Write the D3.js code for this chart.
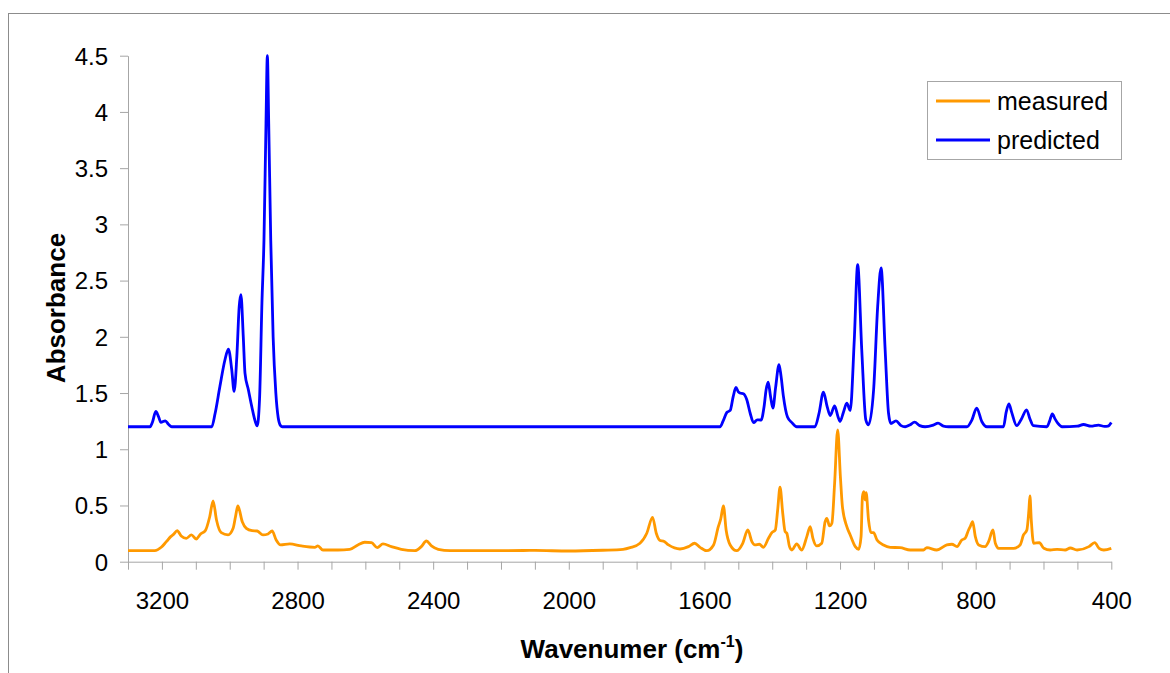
<!DOCTYPE html>
<html>
<head>
<meta charset="utf-8">
<script src="https://cdn.jsdelivr.net/npm/d3@7"></script>
<style>
  html, body { margin: 0; padding: 0; background: #fff; }
  svg { display: block; font-family: "Liberation Sans", Arial, sans-serif; }
</style>
</head>
<body>
<svg id="chart" width="1170" height="673"></svg>
<script>
// IR spectrum: measured vs. predicted absorbance
const seriesNames = ["measured", "predicted"];

const measuredWavenumber = [
  3300, 3221, 3202, 3187, 3174, 3165, 3155, 3143, 3128, 3113, 3099, 3086, 3072, 3059, 3049, 3039,
  3025, 3005, 2990, 2983, 2976, 2963, 2951, 2934, 2919, 2902, 2887, 2875, 2863, 2850, 2823, 2789,
  2749, 2740, 2725, 2681, 2646, 2622, 2602, 2582, 2565, 2548, 2523, 2494, 2454, 2435, 2420, 2405,
  2385, 2350, 2200, 2100, 2000, 1900, 1840, 1819, 1790, 1770, 1753, 1742, 1730, 1721, 1706, 1672,
  1647, 1629, 1613, 1593, 1573, 1559, 1552, 1544, 1536, 1524, 1505, 1487, 1472, 1460, 1451, 1438,
  1426, 1411, 1401, 1391, 1384, 1377, 1369, 1362, 1357, 1349, 1342, 1328, 1313, 1298, 1288, 1280,
  1269, 1254, 1244, 1239, 1231, 1224, 1216, 1207, 1199, 1193, 1180, 1170, 1155, 1145, 1138, 1134,
  1130, 1126, 1123, 1116, 1109, 1101, 1091, 1072, 1052, 1023, 993, 954, 944, 915, 885, 870,
  855, 841, 831, 821, 816, 809, 801, 791, 772, 762, 749, 742, 732, 688, 669, 659,
  649, 643, 640, 636, 629, 612, 599, 580, 560, 536, 521, 501, 466, 449, 436, 422, 400
];
const measuredAbsorbance = [
  0.098, 0.098, 0.128, 0.178, 0.223, 0.245, 0.276, 0.229, 0.208, 0.238, 0.202, 0.247, 0.276, 0.400, 0.541, 0.371,
  0.258, 0.238, 0.297, 0.400, 0.496, 0.356, 0.297, 0.276, 0.273, 0.238, 0.247, 0.273, 0.193, 0.149, 0.158, 0.140,
  0.128, 0.140, 0.104, 0.104, 0.110, 0.149, 0.173, 0.169, 0.125, 0.158, 0.134, 0.110, 0.098, 0.134, 0.184, 0.140,
  0.110, 0.098, 0.098, 0.100, 0.095, 0.102, 0.110, 0.125, 0.164, 0.253, 0.395, 0.253, 0.187, 0.184, 0.149, 0.113,
  0.134, 0.164, 0.128, 0.098, 0.149, 0.312, 0.378, 0.496, 0.282, 0.149, 0.098, 0.164, 0.282, 0.178, 0.149, 0.155,
  0.128, 0.208, 0.258, 0.282, 0.460, 0.662, 0.431, 0.267, 0.253, 0.134, 0.104, 0.158, 0.104, 0.223, 0.312, 0.208,
  0.140, 0.164, 0.356, 0.386, 0.318, 0.342, 0.698, 1.173, 0.757, 0.490, 0.312, 0.238, 0.134, 0.110, 0.223, 0.579,
  0.623, 0.550, 0.614, 0.371, 0.258, 0.258, 0.193, 0.149, 0.128, 0.125, 0.104, 0.104, 0.125, 0.104, 0.149, 0.155,
  0.134, 0.193, 0.208, 0.282, 0.312, 0.356, 0.223, 0.149, 0.134, 0.178, 0.282, 0.164, 0.119, 0.119, 0.149, 0.238,
  0.282, 0.460, 0.585, 0.371, 0.164, 0.169, 0.119, 0.104, 0.110, 0.104, 0.122, 0.104, 0.134, 0.169, 0.119, 0.104, 0.119
];

const predictedWavenumber = [
  3300, 3235, 3228, 3218, 3210, 3203, 3190, 3180, 3171, 3053, 3043, 3029, 3014, 3004, 2994, 2987,
  2979, 2972, 2967, 2960, 2955, 2945, 2935, 2925, 2919, 2912, 2905, 2899, 2893, 2889, 2885, 2879,
  2872, 2864, 2857, 2850, 2845, 1554, 1545, 1534, 1524, 1515, 1507, 1500, 1495, 1485, 1475, 1465,
  1455, 1444, 1433, 1424, 1418, 1412, 1405, 1398, 1390, 1380, 1374, 1367, 1355, 1342, 1328, 1274,
  1262, 1249, 1238, 1229, 1216, 1206, 1200, 1190, 1180, 1170, 1158, 1148, 1136, 1124, 1116, 1101,
  1089, 1079, 1067, 1057, 1050, 1035, 1020, 1008, 995, 980, 965, 949, 925, 911, 895, 880,
  826, 811, 797, 782, 767, 718, 710, 702, 694, 679, 665, 650, 640, 630, 590, 582,
  574, 566, 558, 545, 500, 482, 460, 438, 420, 410, 400
];
const predictedAbsorbance = [
  1.200, 1.200, 1.240, 1.336, 1.290, 1.240, 1.253, 1.220, 1.200, 1.200, 1.320, 1.558, 1.796, 1.891, 1.707, 1.514,
  1.826, 2.270, 2.375, 2.000, 1.678, 1.529, 1.380, 1.250, 1.208, 1.450, 2.300, 2.860, 3.900, 4.500, 3.900, 2.860,
  2.000, 1.500, 1.280, 1.210, 1.200, 1.200, 1.250, 1.327, 1.345, 1.470, 1.549, 1.510, 1.500, 1.493, 1.440, 1.320,
  1.237, 1.262, 1.259, 1.380, 1.530, 1.597, 1.470, 1.366, 1.550, 1.752, 1.650, 1.470, 1.286, 1.237, 1.200, 1.200,
  1.320, 1.508, 1.380, 1.300, 1.386, 1.290, 1.247, 1.330, 1.410, 1.345, 1.974, 2.642, 1.885, 1.262, 1.217, 1.529,
  2.270, 2.612, 1.885, 1.320, 1.229, 1.253, 1.210, 1.200, 1.215, 1.241, 1.210, 1.200, 1.215, 1.232, 1.205, 1.200,
  1.200, 1.262, 1.366, 1.247, 1.200, 1.200, 1.330, 1.404, 1.330, 1.210, 1.270, 1.351, 1.270, 1.210, 1.200, 1.250,
  1.315, 1.270, 1.232, 1.200, 1.205, 1.220, 1.205, 1.215, 1.203, 1.205, 1.238
];

const xTickLabels = [3200, 2800, 2400, 2000, 1600, 1200, 800, 400];
const yTickLabels = ["0", "0.5", "1", "1.5", "2", "2.5", "3", "3.5", "4", "4.5"];

const colors = { measured: "#FF9900", predicted: "#0000FF" };

const svg = d3.select("#chart");

// outer frame
svg.append("rect")
  .attr("x", 8.5).attr("y", 13.5)
  .attr("width", 1180).attr("height", 700)
  .attr("fill", "none").attr("stroke", "#8c8c8c").attr("stroke-width", 1);

const plot = { left: 128, right: 1111.3, top: 55.7, bottom: 561.7 };

const x = d3.scaleLinear().domain([3300, 400]).range([plot.left, plot.right]);
const y = d3.scaleLinear().domain([0, 4.5]).range([plot.bottom, plot.top]);

const axisColor = "#a6a6a6";
const tickFont = 24;

// x axis with a tick every 100 cm-1, labels every 400
const xTicks = d3.range(3300, 399, -100);
const xAxis = svg.append("g")
  .attr("transform", `translate(0,${plot.bottom})`)
  .call(d3.axisBottom(x).tickValues(xTicks).tickSize(8).tickSizeOuter(0)
    .tickFormat(d => xTickLabels.includes(d) ? String(d) : ""));
xAxis.select(".domain").attr("stroke", axisColor);
xAxis.selectAll(".tick line").attr("stroke", axisColor);
xAxis.selectAll(".tick text")
  .attr("y", 47).attr("dy", 0)
  .attr("font-size", tickFont).attr("fill", "#000")
  .attr("font-family", "Liberation Sans, Arial, sans-serif");

// y axis
const yTicks = yTickLabels.map(Number);
const yAxis = svg.append("g")
  .attr("transform", `translate(${plot.left},0)`)
  .call(d3.axisLeft(y).tickValues(yTicks).tickSize(8).tickSizeOuter(0)
    .tickFormat((d, i) => yTickLabels[i]));
yAxis.select(".domain").attr("stroke", axisColor);
yAxis.selectAll(".tick line").attr("stroke", axisColor);
yAxis.selectAll(".tick text")
  .attr("x", -20).attr("dy", "0.35em")
  .attr("font-size", tickFont).attr("fill", "#000")
  .attr("font-family", "Liberation Sans, Arial, sans-serif");

// spectra
const line = d3.line()
  .x(d => x(d[0]))
  .y(d => y(d[1]))
  .curve(d3.curveMonotoneX);

const measured = measuredWavenumber.map((w, i) => [w, measuredAbsorbance[i]]);
const predicted = predictedWavenumber.map((w, i) => [w, predictedAbsorbance[i]]);

svg.append("path")
  .datum(measured)
  .attr("d", line)
  .attr("fill", "none")
  .attr("stroke", colors.measured)
  .attr("stroke-width", 2.8)
  .attr("stroke-linejoin", "round");

svg.append("path")
  .datum(predicted)
  .attr("d", line)
  .attr("fill", "none")
  .attr("stroke", colors.predicted)
  .attr("stroke-width", 2.8)
  .attr("stroke-linejoin", "round");

// axis titles
svg.append("text")
  .attr("transform", "translate(56,308) rotate(-90)")
  .attr("text-anchor", "middle")
  .attr("dy", "0.35em")
  .attr("font-size", 26)
  .attr("font-weight", "bold")
  .text("Absorbance");

const xTitle = svg.append("text")
  .attr("x", 632).attr("y", 658)
  .attr("text-anchor", "middle")
  .attr("font-size", 26)
  .attr("font-weight", "bold");
xTitle.append("tspan").text("Wavenumer (cm");
xTitle.append("tspan").attr("font-size", 16).attr("dy", -11).text("-1");
xTitle.append("tspan").attr("dy", 11).text(")");

// legend
const legend = svg.append("g");
legend.append("rect")
  .attr("x", 927.5).attr("y", 81.5)
  .attr("width", 194).attr("height", 78)
  .attr("fill", "#fff").attr("stroke", "#a6a6a6");
const legendRows = [["measured", 101], ["predicted", 140]];
legendRows.forEach(([name, yy]) => {
  legend.append("line")
    .attr("x1", 936).attr("x2", 990)
    .attr("y1", yy).attr("y2", yy)
    .attr("stroke", colors[name]).attr("stroke-width", 2.8);
  legend.append("text")
    .attr("x", 997).attr("y", yy)
    .attr("dy", "0.35em")
    .attr("font-size", 25)
    .text(name);
});
</script>
</body>
</html>
